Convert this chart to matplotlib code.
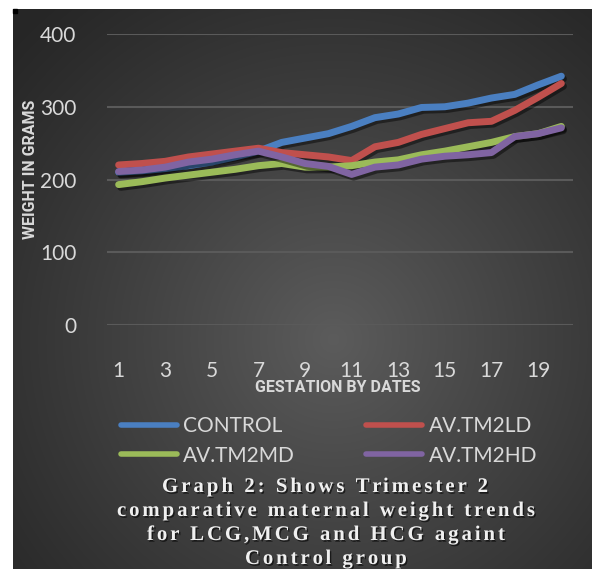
import numpy as np
import matplotlib
matplotlib.use("Agg")
import matplotlib.pyplot as plt
import matplotlib.patheffects as pe
from matplotlib.patches import Rectangle

# ---- data ----
days = list(range(1, 21))
control = [210, 212, 215, 219, 224, 231, 239, 251, 257, 263,
           273, 285, 290, 299, 300, 305, 312, 317, 330, 342]
tm2ld = [220, 222, 225, 231, 235, 239, 243, 237, 234, 231,
         226, 245, 251, 262, 270, 278, 280, 295, 313, 332]
tm2md = [193, 197, 202, 206, 210, 214, 219, 222, 217, 217,
         219, 224, 227, 234, 239, 245, 251, 259, 263, 273]
tm2hd = [211, 213, 217, 224, 228, 234, 239, 231, 222, 218,
         207, 217, 220, 228, 232, 234, 237, 259, 263, 271]
series_names = ["CONTROL", "AV.TM2LD", "AV.TM2MD", "AV.TM2HD"]
series_colors = ["#4a7fc1", "#c0504d", "#9bbb59", "#8064a2"]
x_ticks = list(range(1, 20, 2))
y_ticks = [0, 100, 200, 300, 400]
x_title = "GESTATION BY DATES"
y_title = "WEIGHT IN GRAMS"
caption_lines = ["Graph 2: Shows Trimester 2",
                 "comparative maternal weight trends",
                 "for LCG,MCG and HCG againt",
                 "Control group"]

W, H = 592, 569
fig = plt.figure(figsize=(W / 100, H / 100), dpi=100, facecolor="white")

# ---- dark radial-gradient chart area ----
bx0, by_top = 13, 9
bw, bh = W - bx0, H - by_top
bg = fig.add_axes([bx0 / W, 0, bw / W, bh / H])
bg.axis("off")
yy, xx = np.mgrid[0:bh, 0:bw]
r = np.hypot(xx - 320, (yy - 330) * 1.0) / 440.0
t = np.clip(1 - r, 0, 1) ** 1.1
v = 0.15 + 0.21 * t
bg.imshow(np.dstack([v, v, v]), aspect="auto", interpolation="bilinear")
fig.patches.append(Rectangle((bx0 / W, 1 - (by_top + 4) / H), 4 / W, 4 / H,
                             transform=fig.transFigure, color="black", zorder=5))

# ---- plot area ----
ax = fig.add_axes([107 / W, 1 - 325 / H, (573 - 107) / W, (325 - 34) / H])
ax.set_facecolor("none")
ax.set_xlim(0.5, 20.5)
ax.set_ylim(0, 400)
for s in ax.spines.values():
    s.set_visible(False)
ax.set_yticks(y_ticks)
ax.set_xticks(x_ticks)
ax.tick_params(length=0, colors="#d9d9d9", labelsize=15)
ax.tick_params(axis="y", pad=22)
ax.tick_params(axis="x", pad=26)
for lab in ax.get_xticklabels() + ax.get_yticklabels():
    lab.set_fontfamily(["Lato", "DejaVu Sans"])
ax.grid(axis="y", color="#5a5a5a", linewidth=1.5)
ax.set_axisbelow(True)

shadow = [pe.SimpleLineShadow(offset=(1.5, -2), shadow_color="black", alpha=0.45),
          pe.Normal()]
handles = []
for vals, name, col in zip([control, tm2ld, tm2md, tm2hd], series_names, series_colors):
    ln, = ax.plot(days, vals, color=col, linewidth=5, solid_capstyle="round",
                  solid_joinstyle="round", label=name, path_effects=shadow)
    handles.append(ln)

label_font = dict(family=["Roboto", "DejaVu Sans"], weight="bold", color="#d9d9d9")
fig.text(338 / W, 1 - 388 / H, x_title, ha="center", va="center", fontsize=11.5,
         **label_font)
fig.text(31 / W, 1 - 169 / H, y_title, ha="center", va="center", rotation=90,
         fontsize=11.5, **label_font)

# ---- legend (two columns) ----
order = [0, 2, 1, 3]
leg = fig.legend([handles[i] for i in order], [series_names[i] for i in order],
                 ncol=2, loc="center", bbox_to_anchor=(329 / W, 1 - 441 / H),
                 frameon=False, handlelength=2.7, handletextpad=0.3,
                 columnspacing=3.4, labelspacing=0.45,
                 prop=dict(family=["Lato", "DejaVu Sans"], size=15))
for txt in leg.get_texts():
    txt.set_color("#d9d9d9")
for lh in leg.get_lines():
    lh.set_linewidth(4)
    lh.set_path_effects([])
    lh.set_solid_capstyle("round")

# ---- caption with letter tracking ----
fig.canvas.draw()
renderer = fig.canvas.get_renderer()
cap_font = dict(family=["Liberation Serif", "DejaVu Serif"], weight="bold",
                size=15, color="#f0f0f0")
cap_fx = [pe.SimplePatchShadow(offset=(1, -1.2), shadow_rgbFace="black", alpha=0.6),
          pe.Normal()]


def text_width(s):
    probe = fig.text(0, 0, s + "|", **cap_font)
    bar = fig.text(0, 0, "|", **cap_font)
    w = probe.get_window_extent(renderer).width - bar.get_window_extent(renderer).width
    probe.remove()
    bar.remove()
    return w


def tracked_line(s, left, right, baseline):
    adv = [text_width(s[:i]) if i else 0.0 for i in range(len(s))]
    natural = text_width(s)
    track = (right - left - natural) / (len(s) - 1)
    for i, ch in enumerate(s):
        if ch == " ":
            continue
        fig.text((left + adv[i] + i * track) / W, 1 - baseline / H, ch,
                 ha="left", va="baseline", path_effects=cap_fx, **cap_font)


spans = [(162, 488, 492), (117, 535, 516), (147, 505, 540), (245, 407, 564)]
for line, (l, rgt, b) in zip(caption_lines, spans):
    tracked_line(line, l, rgt, b)

fig.savefig("out.png", dpi=100, facecolor="white")
